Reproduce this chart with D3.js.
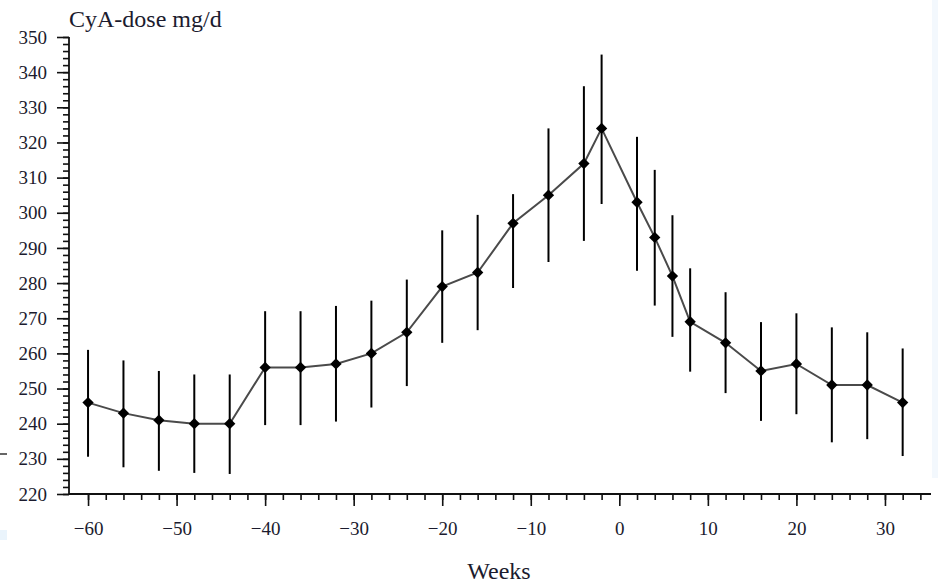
<!DOCTYPE html>
<html>
<head>
<meta charset="utf-8">
<script src="https://cdn.jsdelivr.net/npm/d3@7"></script>
<style>
  html, body { margin: 0; padding: 0; background: #fff; }
  svg { display: block; }
</style>
</head>
<body>
<svg id="chart" width="938" height="583"></svg>
<script>
// weeks relative to the event, mean CyA dose and the ends of each error bar
const weeks = [-60, -56, -52, -48, -44, -40, -36, -32, -28, -24, -20, -16, -12, -8, -4, -2, 2, 4, 6, 8, 12, 16, 20, 24, 28, 32];
const dose  = [246, 243, 241, 240, 240, 256, 256, 257, 260, 266, 279, 283, 297, 305, 314, 324, 303, 293, 282, 269, 263, 255, 257, 251, 251, 246];
const upper = [261, 258, 255, 254, 254, 272, 272, 273.5, 275, 281, 295, 299.4, 305.3, 324, 336, 345, 321.6, 312.2, 299.3, 284.2, 277.4, 268.9, 271.4, 267.4, 266, 261.4];
const lower = [230.6, 227.6, 226.6, 226, 225.7, 239.6, 239.6, 240.6, 244.6, 250.7, 263, 266.6, 278.6, 286, 292, 302.5, 283.5, 273.6, 264.7, 254.8, 248.7, 240.8, 242.7, 234.7, 235.6, 230.8];

const xMajor = [-60, -50, -40, -30, -20, -10, 0, 10, 20, 30];
const yMajor = [220, 230, 240, 250, 260, 270, 280, 290, 300, 310, 320, 330, 340, 350];

const yTitle = "CyA-dose mg/d";
const xTitle = "Weeks";

const svg = d3.select("#chart");
const serif = '"Liberation Serif", "Times New Roman", "DejaVu Serif", serif';
const ink = "#1b1b2e";

//scales, the x axis starts a bit before -60 and runs a bit past 30
const x = d3.scaleLinear().domain([-62.15, 35.2]).range([69, 931]);
const y = d3.scaleLinear().domain([220, 350]).range([494, 37]);

// faint scan marks at the page edges
svg.append("rect").attr("x", 932).attr("y", 0).attr("width", 6).attr("height", 478).attr("fill", "#f3f8fd");
svg.append("rect").attr("x", 0).attr("y", 530).attr("width", 7).attr("height", 10).attr("fill", "#eaf4fc");
svg.append("line").attr("x1", 0).attr("x2", 7).attr("y1", 454).attr("y2", 454).attr("stroke", "#333").attr("stroke-width", 1.5);

// y axis: minor ticks every 2, labelled ticks every 10
const yMinor = svg.append("g").attr("transform", "translate(69,0)")
  .call(d3.axisLeft(y).tickValues(d3.range(220, 351, 2)).tickSize(6).tickFormat(""));
const yAxis = svg.append("g").attr("transform", "translate(69,0)")
  .call(d3.axisLeft(y).tickValues(yMajor).tickSize(12).tickPadding(10).tickFormat(d3.format("d")));

// x axis
const xMinor = svg.append("g").attr("transform", "translate(0,494)")
  .call(d3.axisBottom(x).tickValues(d3.range(-60, 35, 2)).tickSize(6).tickFormat(""));
const xAxis = svg.append("g").attr("transform", "translate(0,494)")
  .call(d3.axisBottom(x).tickValues(xMajor).tickSize(12).tickPadding(16).tickFormat(d3.format("d")));

for (let g of [yMinor, yAxis, xMinor, xAxis]) {
  g.attr("font-family", serif);
  g.selectAll(".domain").attr("stroke", "#111").attr("stroke-width", 1.8);
  g.selectAll(".tick line").attr("stroke", "#111").attr("stroke-width", 1.6);
  g.selectAll(".tick text").style("font-family", serif).style("font-size", "19px").attr("fill", ink);
}
yAxis.selectAll(".domain").remove();
xAxis.selectAll(".domain").remove();
yMinor.select(".domain").attr("d", "M0," + y(220) + "V" + y(350));
xMinor.select(".domain").attr("d", "M" + x(-62.15) + ",0H" + x(35.2));

// axis titles
svg.append("text").attr("x", 69).attr("y", 27)
  .style("font-family", serif).style("font-size", "24px").attr("fill", ink)
  .text(yTitle);
svg.append("text").attr("x", 499).attr("y", 579).attr("text-anchor", "middle")
  .style("font-family", serif).style("font-size", "24px").attr("fill", ink)
  .text(xTitle);

// error bars
svg.append("g").selectAll("line").data(weeks).join("line")
  .attr("x1", d => x(d)).attr("x2", d => x(d))
  .attr("y1", (d, i) => y(upper[i])).attr("y2", (d, i) => y(lower[i]))
  .attr("stroke", "#000").attr("stroke-width", 2);

// connecting line
const line = d3.line().x(d => x(d[0])).y(d => y(d[1]));
svg.append("path").datum(weeks.map((w, i) => [w, dose[i]]))
  .attr("d", line).attr("fill", "none").attr("stroke", "#4a4a4a").attr("stroke-width", 2);

// diamond markers
svg.append("g").selectAll("path").data(weeks).join("path")
  .attr("d", d3.symbol(d3.symbolSquare, 64))
  .attr("transform", (d, i) => "translate(" + x(d) + "," + y(dose[i]) + ") rotate(45)")
  .attr("fill", "#000");
</script>
</body>
</html>
